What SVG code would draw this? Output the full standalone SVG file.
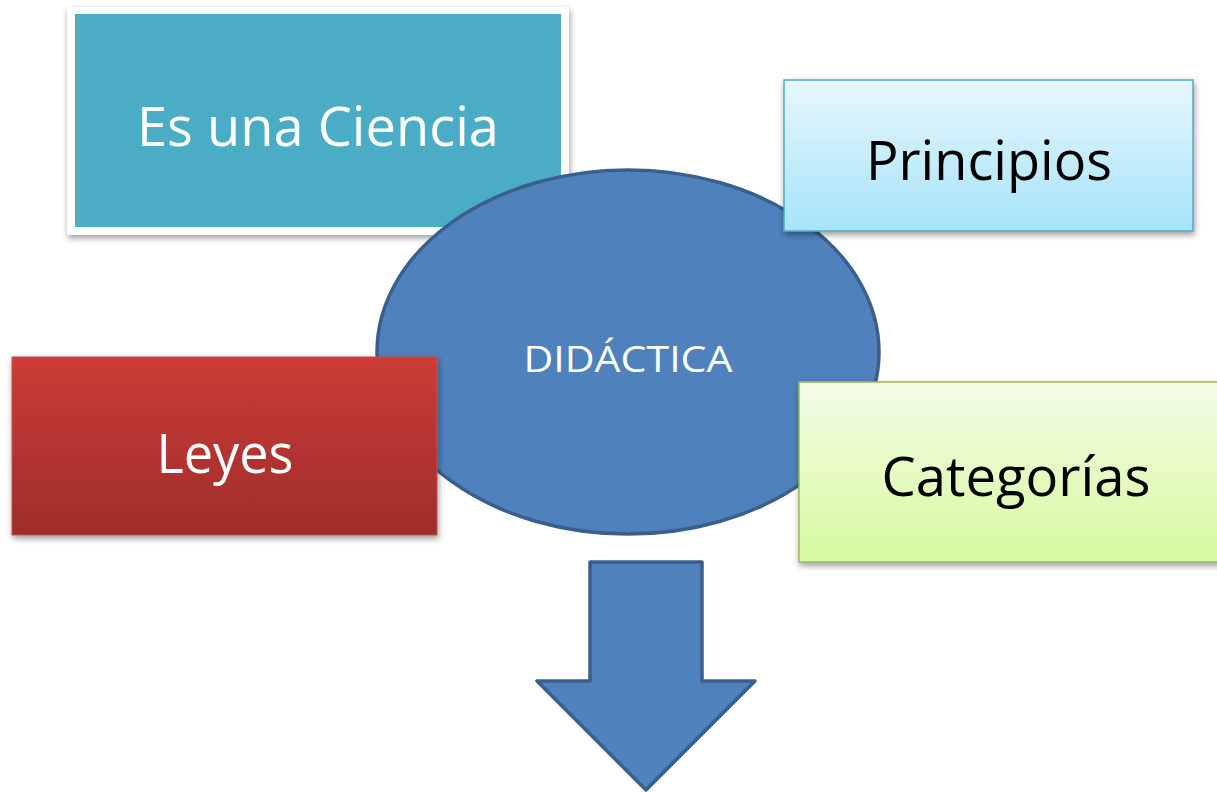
<svg xmlns="http://www.w3.org/2000/svg" width="1217" height="792" viewBox="0 0 1217 792">
<defs>
<filter id="sh" x="-10%" y="-10%" width="120%" height="125%">
<feGaussianBlur in="SourceAlpha" stdDeviation="3"/>
<feOffset dx="1" dy="3" result="b"/>
<feComponentTransfer><feFuncA type="linear" slope="0.4"/></feComponentTransfer>
<feMerge><feMergeNode/><feMergeNode in="SourceGraphic"/></feMerge>
</filter>
<linearGradient id="gBlue" x1="0" y1="0" x2="0" y2="1"><stop offset="0" stop-color="#E8F7FD"/><stop offset="1" stop-color="#A6E3FA"/></linearGradient>
<linearGradient id="gRed" x1="0" y1="0" x2="0" y2="1"><stop offset="0" stop-color="#CD3B36"/><stop offset="1" stop-color="#9E2D2B"/></linearGradient>
<linearGradient id="gGreen" x1="0" y1="0" x2="0" y2="1"><stop offset="0" stop-color="#F3FCE6"/><stop offset="1" stop-color="#D7F9A0"/></linearGradient>
</defs>
<style>
text{font-family:"Open Sans","Noto Sans","Liberation Sans",sans-serif;text-anchor:middle}
.big{font-size:55px}
.w{fill:#FFFFFF}
.k{fill:#000000}
.blue{fill:#4F81BD;stroke:#3A5F8C;stroke-width:3.5;stroke-linejoin:round}
</style>
<rect width="1217" height="792" fill="#FFFFFF"/>
<g id="ciencia">
<rect x="67" y="7" width="502" height="228" fill="#FFFFFF" filter="url(#sh)"/>
<rect x="75" y="14" width="486" height="213" fill="#4BACC6"/>
<text class="big w" x="318" y="146" textLength="362" lengthAdjust="spacingAndGlyphs">Es una Ciencia</text>
</g>
<g id="didactica">
<ellipse class="blue" cx="628" cy="352" rx="251" ry="182"/>
<text class="w" x="628" y="372" font-size="37" textLength="209" lengthAdjust="spacingAndGlyphs">DIDÁCTICA</text>
</g>
<g id="principios">
<rect x="784" y="80" width="409" height="151" fill="url(#gBlue)" stroke="#4BACC6" stroke-width="1.5" filter="url(#sh)"/>
<text class="big k" x="989" y="180" textLength="246" lengthAdjust="spacingAndGlyphs">Principios</text>
</g>
<g id="leyes">
<rect x="12" y="357" width="425" height="178" fill="url(#gRed)" stroke="#C0504D" stroke-width="1" filter="url(#sh)"/>
<text class="big w" x="225" y="473" textLength="137" lengthAdjust="spacingAndGlyphs">Leyes</text>
</g>
<g id="categorias">
<rect x="799" y="382" width="430" height="180" fill="url(#gGreen)" stroke="#9BBB59" stroke-width="1.5" filter="url(#sh)"/>
<text class="big k" x="1016" y="496" textLength="269" lengthAdjust="spacingAndGlyphs">Categorías</text>
</g>
<g id="connectors">
<path class="blue" d="M590 562 H702 V681 H755 L646 790 L537 681 H590 Z"/>
</g>
</svg>
